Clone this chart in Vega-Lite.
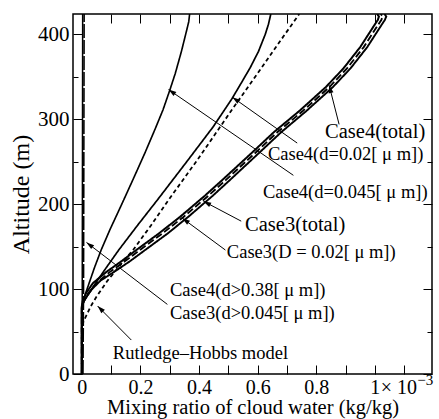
{
  "$schema": "https://vega.github.io/schema/vega-lite/v6.json",
  "width": 359,
  "height": 360,
  "autosize": {"type": "none"},
  "padding": {"left": 73, "top": 14, "right": 7, "bottom": 45},
  "config": {
    "view": {"stroke": "black", "strokeWidth": 1.5},
    "font": "Liberation Serif, serif",
    "text": {"font": "Liberation Serif, serif"},
    "axis": {"labelFont": "Liberation Serif, serif", "titleFont": "Liberation Serif, serif", "labelColor": "black", "titleColor": "black", "tickColor": "black", "titleFontWeight": "normal", "grid": false}
  },
  "datasets": {
    "curves": [
      {"series": "Case4(d>0.38)", "alt": 0, "x": 0.001}, {"series": "Case4(d>0.38)", "alt": 200, "x": 0.002}, {"series": "Case4(d>0.38)", "alt": 424, "x": 0.003},
      {"series": "Case3(d>0.045)", "alt": 0, "x": 0.004}, {"series": "Case3(d>0.045)", "alt": 100, "x": 0.006}, {"series": "Case3(d>0.045)", "alt": 424, "x": 0.008},
      {"series": "Case4(d=0.02)", "alt": 0, "x": 0}, {"series": "Case4(d=0.02)", "alt": 75, "x": 0}, {"series": "Case4(d=0.02)", "alt": 83, "x": 0.003}, {"series": "Case4(d=0.02)", "alt": 95, "x": 0.013}, {"series": "Case4(d=0.02)", "alt": 110, "x": 0.028}, {"series": "Case4(d=0.02)", "alt": 125, "x": 0.043}, {"series": "Case4(d=0.02)", "alt": 146, "x": 0.066}, {"series": "Case4(d=0.02)", "alt": 170, "x": 0.096}, {"series": "Case4(d=0.02)", "alt": 193, "x": 0.127}, {"series": "Case4(d=0.02)", "alt": 205, "x": 0.143}, {"series": "Case4(d=0.02)", "alt": 230, "x": 0.176}, {"series": "Case4(d=0.02)", "alt": 260, "x": 0.215}, {"series": "Case4(d=0.02)", "alt": 290, "x": 0.252}, {"series": "Case4(d=0.02)", "alt": 311, "x": 0.277}, {"series": "Case4(d=0.02)", "alt": 335, "x": 0.301}, {"series": "Case4(d=0.02)", "alt": 354, "x": 0.319}, {"series": "Case4(d=0.02)", "alt": 380, "x": 0.34}, {"series": "Case4(d=0.02)", "alt": 405, "x": 0.358}, {"series": "Case4(d=0.02)", "alt": 415, "x": 0.365}, {"series": "Case4(d=0.02)", "alt": 424, "x": 0.368},
      {"series": "Case4(d=0.045)", "alt": 0, "x": 0}, {"series": "Case4(d=0.045)", "alt": 75, "x": 0}, {"series": "Case4(d=0.045)", "alt": 83, "x": 0.003}, {"series": "Case4(d=0.045)", "alt": 95, "x": 0.024}, {"series": "Case4(d=0.045)", "alt": 110, "x": 0.053}, {"series": "Case4(d=0.045)", "alt": 125, "x": 0.083}, {"series": "Case4(d=0.045)", "alt": 146, "x": 0.126}, {"series": "Case4(d=0.045)", "alt": 175, "x": 0.19}, {"series": "Case4(d=0.045)", "alt": 205, "x": 0.258}, {"series": "Case4(d=0.045)", "alt": 250, "x": 0.358}, {"series": "Case4(d=0.045)", "alt": 291, "x": 0.448}, {"series": "Case4(d=0.045)", "alt": 324, "x": 0.512}, {"series": "Case4(d=0.045)", "alt": 345, "x": 0.548}, {"series": "Case4(d=0.045)", "alt": 361, "x": 0.575}, {"series": "Case4(d=0.045)", "alt": 380, "x": 0.603}, {"series": "Case4(d=0.045)", "alt": 400, "x": 0.626}, {"series": "Case4(d=0.045)", "alt": 412, "x": 0.637}, {"series": "Case4(d=0.045)", "alt": 424, "x": 0.645},
      {"series": "Rutledge-Hobbs", "alt": 0, "x": 0}, {"series": "Rutledge-Hobbs", "alt": 55, "x": 0}, {"series": "Rutledge-Hobbs", "alt": 62, "x": 0.006}, {"series": "Rutledge-Hobbs", "alt": 70, "x": 0.017}, {"series": "Rutledge-Hobbs", "alt": 80, "x": 0.031}, {"series": "Rutledge-Hobbs", "alt": 91, "x": 0.05}, {"series": "Rutledge-Hobbs", "alt": 110, "x": 0.088}, {"series": "Rutledge-Hobbs", "alt": 130, "x": 0.135}, {"series": "Rutledge-Hobbs", "alt": 146, "x": 0.175}, {"series": "Rutledge-Hobbs", "alt": 175, "x": 0.236}, {"series": "Rutledge-Hobbs", "alt": 205, "x": 0.296}, {"series": "Rutledge-Hobbs", "alt": 250, "x": 0.39}, {"series": "Rutledge-Hobbs", "alt": 314, "x": 0.518}, {"series": "Rutledge-Hobbs", "alt": 360, "x": 0.612}, {"series": "Rutledge-Hobbs", "alt": 400, "x": 0.693}, {"series": "Rutledge-Hobbs", "alt": 424, "x": 0.742},
      {"series": "Case3(total)", "alt": 0, "x": 0}, {"series": "Case3(total)", "alt": 78, "x": 0}, {"series": "Case3(total)", "alt": 86, "x": 0.007}, {"series": "Case3(total)", "alt": 95, "x": 0.022}, {"series": "Case3(total)", "alt": 107, "x": 0.05}, {"series": "Case3(total)", "alt": 120, "x": 0.095}, {"series": "Case3(total)", "alt": 133, "x": 0.148}, {"series": "Case3(total)", "alt": 146, "x": 0.198}, {"series": "Case3(total)", "alt": 165, "x": 0.273}, {"series": "Case3(total)", "alt": 185, "x": 0.347}, {"series": "Case3(total)", "alt": 210, "x": 0.432}, {"series": "Case3(total)", "alt": 228, "x": 0.49}, {"series": "Case3(total)", "alt": 263, "x": 0.6}, {"series": "Case3(total)", "alt": 285, "x": 0.668}, {"series": "Case3(total)", "alt": 310, "x": 0.755}, {"series": "Case3(total)", "alt": 338, "x": 0.845}, {"series": "Case3(total)", "alt": 360, "x": 0.905}, {"series": "Case3(total)", "alt": 385, "x": 0.962}, {"series": "Case3(total)", "alt": 408, "x": 1.005}, {"series": "Case3(total)", "alt": 417, "x": 1.022}, {"series": "Case3(total)", "alt": 421, "x": 1.027}, {"series": "Case3(total)", "alt": 424, "x": 1.02},
      {"series": "Case3(D=0.02)", "alt": 0, "x": 0}, {"series": "Case3(D=0.02)", "alt": 80, "x": 0}, {"series": "Case3(D=0.02)", "alt": 88, "x": 0.01}, {"series": "Case3(D=0.02)", "alt": 100, "x": 0.035}, {"series": "Case3(D=0.02)", "alt": 110, "x": 0.064}, {"series": "Case3(D=0.02)", "alt": 120, "x": 0.109}, {"series": "Case3(D=0.02)", "alt": 133, "x": 0.165}, {"series": "Case3(D=0.02)", "alt": 146, "x": 0.216}, {"series": "Case3(D=0.02)", "alt": 165, "x": 0.291}, {"series": "Case3(D=0.02)", "alt": 185, "x": 0.363}, {"series": "Case3(D=0.02)", "alt": 210, "x": 0.447}, {"series": "Case3(D=0.02)", "alt": 228, "x": 0.504}, {"series": "Case3(D=0.02)", "alt": 263, "x": 0.613}, {"series": "Case3(D=0.02)", "alt": 285, "x": 0.681}, {"series": "Case3(D=0.02)", "alt": 310, "x": 0.767}, {"series": "Case3(D=0.02)", "alt": 338, "x": 0.857}, {"series": "Case3(D=0.02)", "alt": 360, "x": 0.917}, {"series": "Case3(D=0.02)", "alt": 385, "x": 0.974}, {"series": "Case3(D=0.02)", "alt": 408, "x": 1.017}, {"series": "Case3(D=0.02)", "alt": 417, "x": 1.034}, {"series": "Case3(D=0.02)", "alt": 421, "x": 1.039}, {"series": "Case3(D=0.02)", "alt": 424, "x": 1.033},
      {"series": "Case4(total)", "alt": 0, "x": 0}, {"series": "Case4(total)", "alt": 78, "x": 0}, {"series": "Case4(total)", "alt": 86, "x": 0.003}, {"series": "Case4(total)", "alt": 95, "x": 0.014}, {"series": "Case4(total)", "alt": 107, "x": 0.038}, {"series": "Case4(total)", "alt": 120, "x": 0.083}, {"series": "Case4(total)", "alt": 133, "x": 0.136}, {"series": "Case4(total)", "alt": 146, "x": 0.186}, {"series": "Case4(total)", "alt": 165, "x": 0.261}, {"series": "Case4(total)", "alt": 185, "x": 0.335}, {"series": "Case4(total)", "alt": 210, "x": 0.42}, {"series": "Case4(total)", "alt": 228, "x": 0.478}, {"series": "Case4(total)", "alt": 263, "x": 0.588}, {"series": "Case4(total)", "alt": 285, "x": 0.656}, {"series": "Case4(total)", "alt": 310, "x": 0.743}, {"series": "Case4(total)", "alt": 338, "x": 0.833}, {"series": "Case4(total)", "alt": 360, "x": 0.893}, {"series": "Case4(total)", "alt": 385, "x": 0.95}, {"series": "Case4(total)", "alt": 408, "x": 0.993}, {"series": "Case4(total)", "alt": 417, "x": 1.01}, {"series": "Case4(total)", "alt": 421, "x": 1.014}, {"series": "Case4(total)", "alt": 424, "x": 1.008}
    ],
    "arrows": [
      {"x": 0.722, "y": 234, "x2": 0.296, "y2": 335},
      {"x": 0.735, "y": 272, "x2": 0.514, "y2": 326},
      {"x": 0.878, "y": 294, "x2": 0.844, "y2": 340},
      {"x": 0.544, "y": 180, "x2": 0.415, "y2": 203.5},
      {"x": 0.49, "y": 146, "x2": 0.343, "y2": 183.5},
      {"x": 0.292, "y": 82, "x2": 0.016, "y2": 155},
      {"x": 0.169, "y": 40, "x2": 0.054, "y2": 80}
    ],
    "labels": [
      {"label": "Case4(total)", "x": 0.83, "y": 285},
      {"label": "Case4(d=0.02[ μ m])", "x": 0.635, "y": 259},
      {"label": "Case4(d=0.045[ μ m])", "x": 0.618, "y": 214},
      {"label": "Case3(total)", "x": 0.557, "y": 175.5},
      {"label": "Case3(D = 0.02[ μ m])", "x": 0.495, "y": 143.7},
      {"label": "Case4(d>0.38[ μ m])", "x": 0.301, "y": 99},
      {"label": "Case3(d>0.045[ μ m])", "x": 0.301, "y": 72},
      {"label": "Rutledge–Hobbs model", "x": 0.106, "y": 24.7}
    ],
    "exponent": [{"x": 1.02, "y": -24, "base": "× 10", "ex": "−3", "xe": 1.145, "ye": -12.5}]
  },
  "layer": [
    {
      "data": {"name": "curves"},
      "mark": {"type": "line", "color": "black", "clip": true},
      "encoding": {
        "x": {"field": "x", "type": "quantitative", "scale": {"domain": [-0.03, 1.195], "nice": false, "zero": false},
          "axis": {"orient": "bottom", "values": [0, 0.2, 0.4, 0.6, 0.8, 1], "labelExpr": "datum.value == 0 ? '0' : datum.value == 1 ? '1' : format(datum.value, '.1f')", "ticks": false, "domain": false, "labelFontSize": 20, "labelPadding": 3, "labelFlush": false, "labelOverlap": false, "title": "Mixing ratio of cloud water (kg/kg)", "titleFontSize": 20.5, "titlePadding": 0}},
        "y": {"field": "alt", "type": "quantitative", "scale": {"domain": [0, 424], "nice": false, "zero": false},
          "axis": {"orient": "left", "values": [0, 100, 200, 300, 400], "ticks": false, "domain": false, "labelFontSize": 21, "labelPadding": 4, "labelFlush": false, "labelOverlap": false, "title": "Altitude (m)", "titleFontSize": 24, "titlePadding": 4}},
        "detail": {"field": "series", "type": "nominal"},
        "order": {"field": "alt", "type": "quantitative"},
        "strokeDash": {"field": "series", "type": "nominal", "legend": null,
          "scale": {"domain": ["Case4(d>0.38)", "Case3(d>0.045)", "Case4(d=0.02)", "Case4(d=0.045)", "Rutledge-Hobbs", "Case3(total)", "Case3(D=0.02)", "Case4(total)"],
            "range": [[1, 0], [14, 2], [1, 0], [1, 0], [4, 3], [7, 3], [1, 0], [1, 0]]}},
        "strokeWidth": {"field": "series", "type": "nominal", "legend": null,
          "scale": {"domain": ["Case4(d>0.38)", "Case3(d>0.045)", "Case4(d=0.02)", "Case4(d=0.045)", "Rutledge-Hobbs", "Case3(total)", "Case3(D=0.02)", "Case4(total)"],
            "range": [1.5, 2, 1, 1, 1, 1.7, 0.9, 0.9]}}
      }
    },
    {
      "data": {"name": "arrows"},
      "mark": {"type": "rule", "color": "black", "strokeWidth": 1},
      "encoding": {
        "x": {"field": "x", "type": "quantitative", "scale": {"domain": [-0.03, 1.195], "nice": false, "zero": false},
          "axis": {"orient": "top", "values": [0, 0.1, 0.2, 0.3, 0.4, 0.5, 0.6, 0.7, 0.8, 0.9, 1, 1.1], "tickSize": -9, "labels": false, "domain": false, "title": null}},
        "y": {"field": "y", "type": "quantitative", "scale": {"domain": [0, 424], "nice": false, "zero": false},
          "axis": {"orient": "right", "values": [0, 100, 200, 300, 400], "tickSize": -9, "labels": false, "domain": false, "title": null}},
        "x2": {"field": "x2"},
        "y2": {"field": "y2"}
      }
    },
    {
      "data": {"name": "arrows"},
      "transform": [{"calculate": "atan2((datum.x2 - datum.x) * 293.06, (datum.y2 - datum.y) * 0.849) * 180 / PI", "as": "ang"}],
      "mark": {"type": "point", "shape": "M0,0L-0.7,2.2L0.7,2.2Z", "filled": true, "color": "black", "opacity": 1, "size": 50},
      "encoding": {
        "x": {"field": "x2", "type": "quantitative", "scale": {"domain": [-0.03, 1.195], "nice": false, "zero": false},
          "axis": {"orient": "bottom", "values": [0, 0.1, 0.2, 0.3, 0.4, 0.5, 0.6, 0.7, 0.8, 0.9, 1, 1.1], "tickSize": -9, "labels": false, "domain": false, "title": null}},
        "y": {"field": "y2", "type": "quantitative", "scale": {"domain": [0, 424], "nice": false, "zero": false},
          "axis": {"orient": "left", "values": [0, 100, 200, 300, 400], "tickSize": -9, "labels": false, "domain": false, "title": null}},
        "angle": {"field": "ang", "type": "quantitative", "scale": null}
      }
    },
    {
      "data": {"name": "labels"},
      "mark": {"type": "text", "align": "left", "baseline": "middle", "font": "Liberation Serif, serif", "color": "black"},
      "encoding": {
        "x": {"field": "x", "type": "quantitative", "scale": {"domain": [-0.03, 1.195], "nice": false, "zero": false}, "axis": null},
        "y": {"field": "y", "type": "quantitative", "scale": {"domain": [0, 424], "nice": false, "zero": false},
          "axis": {"orient": "left", "values": [50, 150, 250, 350], "tickSize": -5, "labels": false, "domain": false, "title": null}},
        "text": {"field": "label"},
        "size": {"condition": {"test": "indexof(datum.label, 'total') >= 0", "value": 20.5}, "value": 18.5}
      }
    },
    {
      "data": {"name": "exponent"},
      "mark": {"type": "text", "align": "left", "baseline": "alphabetic", "font": "Liberation Serif, serif", "fontSize": 20, "color": "black"},
      "encoding": {
        "x": {"field": "x", "type": "quantitative", "scale": {"domain": [-0.03, 1.195], "nice": false, "zero": false}, "axis": null},
        "y": {"field": "y", "type": "quantitative", "scale": {"domain": [0, 424], "nice": false, "zero": false},
          "axis": {"orient": "right", "values": [50, 150, 250, 350], "tickSize": -5, "labels": false, "domain": false, "title": null}},
        "text": {"field": "base"}
      }
    },
    {
      "data": {"name": "exponent"},
      "mark": {"type": "text", "align": "left", "baseline": "alphabetic", "font": "Liberation Serif, serif", "fontSize": 15, "color": "black"},
      "encoding": {
        "x": {"field": "xe", "type": "quantitative", "scale": {"domain": [-0.03, 1.195], "nice": false, "zero": false}, "axis": null},
        "y": {"field": "ye", "type": "quantitative", "scale": {"domain": [0, 424], "nice": false, "zero": false}, "axis": null},
        "text": {"field": "ex"}
      }
    }
  ],
  "resolve": {"axis": {"x": "independent", "y": "independent"}}
}
